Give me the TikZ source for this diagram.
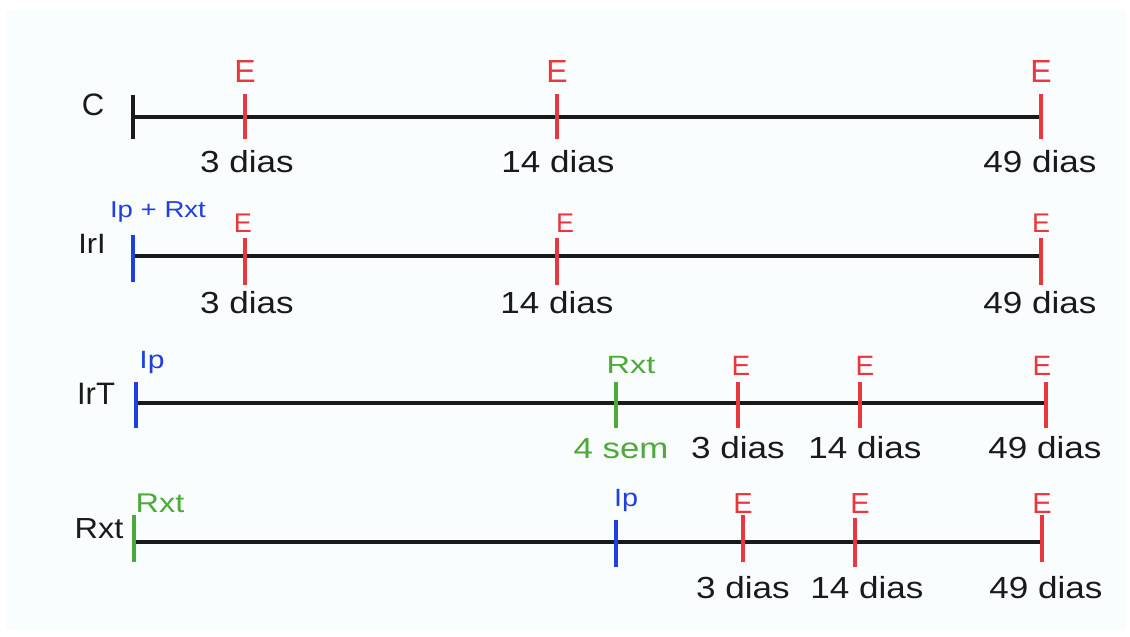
\documentclass[tikz,border=0pt]{standalone}
\usepackage{fontspec}
\setmainfont{Liberation Sans}
\definecolor{evred}{HTML}{E8383D}
\definecolor{ipblue}{HTML}{1F3FE0}
\definecolor{rxgreen}{HTML}{4DA93A}
\definecolor{ink}{HTML}{1A1A1A}
\definecolor{paper}{HTML}{FAFDFE}
\newcommand{\fsz}[1]{\fontsize{#1}{#1}\selectfont}
% tick mark: name, x, top y, bottom y, colour
\newcommand{\tk}[5]{%
  \coordinate (#1-t) at (#2,#3);
  \coordinate (#1-b) at (#2,#4);
  \draw[tickmark,#5] (#1-t) -- (#1-b);}
\begin{document}
\begin{tikzpicture}[x=1pt,y=-1pt,
  axis/.style={line width=3.6pt, ink},
  tickmark/.style={line width=3.4pt},
  txt/.style={anchor=base, inner sep=0pt, outer sep=0pt},
  day/.style={txt, text=ink, font=\fsz{30.5}, xscale=1.15},
  ev/.style={txt, text=evred},
  row/.style={txt, text=ink},
]
\useasboundingbox (0,0) rectangle (1130,637);
\fill[white] (0,0) rectangle (1130,637);
\fill[paper] (5,10) rectangle (1125,630);

% ---- C ----
\coordinate (c-a) at (133,117); \coordinate (c-z) at (1041,117);
\draw[axis] (c-a) -- (c-z);
\tk{c0}{133}{95}{139}{ink}
\tk{c1}{245}{94}{139}{evred}
\tk{c2}{557}{94}{139}{evred}
\tk{c3}{1041}{94}{139}{evred}
\node[row, font=\fsz{31}] (cl) at (93,115) {C};
\node[ev, font=\fsz{32}] (ce1) at (245,82) {E};
\node[ev, font=\fsz{32}] (ce2) at (557,82) {E};
\node[ev, font=\fsz{32}] (ce3) at (1041,82) {E};
\node[day] (cd1) at (247,172) {3 dias};
\node[day] (cd2) at (558,172) {14 dias};
\node[day] (cd3) at (1040,172) {49 dias};

% ---- IrI ----
\coordinate (i-a) at (133,256); \coordinate (i-z) at (1041,256);
\draw[axis] (i-a) -- (i-z);
\tk{i0}{133}{235}{282}{ipblue}
\tk{i1}{245}{238}{285}{evred}
\tk{i2}{557}{238}{285}{evred}
\tk{i3}{1041}{238}{285}{evred}
\node[row, font=\fsz{28}, xscale=1.1] (il) at (92,253) {IrI};
\node[txt, text=ipblue, font=\fsz{23}, xscale=1.2] (ip) at (158,217) {Ip + Rxt};
\node[ev, font=\fsz{27}] (ie1) at (243,232) {E};
\node[ev, font=\fsz{27}] (ie2) at (565,232) {E};
\node[ev, font=\fsz{27}] (ie3) at (1041,232) {E};
\node[day] (id1) at (247,313) {3 dias};
\node[day] (id2) at (557,313) {14 dias};
\node[day] (id3) at (1040,313) {49 dias};

% ---- IrT ----
\coordinate (t-a) at (136,403); \coordinate (t-z) at (1046,403);
\draw[axis] (t-a) -- (t-z);
\tk{t0}{136}{382}{428}{ipblue}
\tk{tr}{616}{382}{428}{rxgreen}
\tk{t1}{738}{382}{428}{evred}
\tk{t2}{860}{382}{428}{evred}
\tk{t3}{1046}{382}{428}{evred}
\node[row, font=\fsz{31}] (tl) at (96,404) {IrT};
\node[txt, text=ipblue, font=\fsz{25}, xscale=1.2] (tip) at (152,368) {Ip};
\node[txt, text=rxgreen, font=\fsz{25}, xscale=1.3] (trx) at (631,373) {Rxt};
\node[ev, font=\fsz{28}] (te1) at (741,375) {E};
\node[ev, font=\fsz{28}] (te2) at (865,375) {E};
\node[ev, font=\fsz{28}] (te3) at (1042,375) {E};
\node[txt, text=rxgreen, font=\fsz{29}, xscale=1.2] (tsem) at (621,458) {4 sem};
\node[day] (td1) at (738,458) {3 dias};
\node[day] (td2) at (865,458) {14 dias};
\node[day] (td3) at (1045,458) {49 dias};

% ---- Rxt ----
\coordinate (r-a) at (134,542); \coordinate (r-z) at (1042,542);
\draw[axis] (r-a) -- (r-z);
\tk{r0}{134}{515}{562}{rxgreen}
\tk{rp}{616}{520}{567}{ipblue}
\tk{r1}{743}{515}{562}{evred}
\tk{r2}{855}{518}{567}{evred}
\tk{r3}{1042}{515}{562}{evred}
\node[row, font=\fsz{29}, xscale=1.12] (rl) at (99,538) {Rxt};
\node[txt, text=rxgreen, font=\fsz{27}, xscale=1.2] (rrx) at (160,512) {Rxt};
\node[txt, text=ipblue, font=\fsz{25}, xscale=1.15] (rip) at (626,506) {Ip};
\node[ev, font=\fsz{29}] (re1) at (743,513) {E};
\node[ev, font=\fsz{29}] (re2) at (860,513) {E};
\node[ev, font=\fsz{29}] (re3) at (1042,513) {E};
\node[day] (rd1) at (743,598) {3 dias};
\node[day] (rd2) at (867,598) {14 dias};
\node[day] (rd3) at (1046,598) {49 dias};
\end{tikzpicture}
\end{document}
